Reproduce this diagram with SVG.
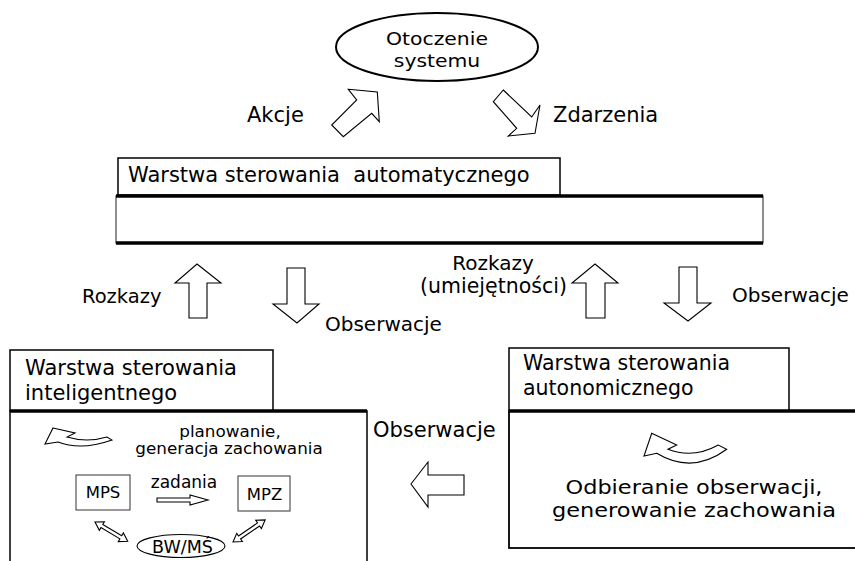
<svg xmlns="http://www.w3.org/2000/svg" width="855" height="561" viewBox="0 0 855 561">
<style>
.t{font-family:"DejaVu Sans","Liberation Sans",sans-serif;fill:#000}
.m{text-anchor:middle}
.box{fill:#fff;stroke:#000;stroke-width:1.5}
.thin{fill:#fff;stroke:#333;stroke-width:1}
.thick{stroke:#000;stroke-width:3.5;fill:none}
.arr{fill:#fff;stroke:#000;stroke-width:1.1;stroke-linejoin:miter}
</style>
<rect width="855" height="561" fill="#fff"/>

<g id="otoczenie">
<ellipse cx="437" cy="47" rx="101" ry="34" fill="#fff" stroke="#000" stroke-width="2"/>
<text class="t m" transform="translate(437,45) scale(1.1,1)" x="0" y="0" font-size="18.5">Otoczenie</text>
<text class="t m" transform="translate(437,67) scale(1.1,1)" x="0" y="0" font-size="18.5">systemu</text>
</g>

<g id="warstwa-automatyczna">
<rect class="box" x="118" y="158" width="442" height="37"/>
<text class="t" x="128" y="182" font-size="21" xml:space="preserve">Warstwa sterowania  automatycznego</text>
<rect x="116" y="196" width="647" height="47" fill="#fff" stroke="#444" stroke-width="1.2"/>
<line class="thick" x1="116" y1="196" x2="763" y2="196"/>
<line class="thick" x1="116" y1="243" x2="763" y2="243"/>
</g>

<g id="warstwa-inteligentna">
<rect class="box" x="10" y="350" width="263" height="61"/>
<text class="t" x="25" y="375" font-size="21">Warstwa sterowania</text>
<text class="t" x="25" y="400" font-size="21">inteligentnego</text>
<path d="M10,565 V411 H367 V565" fill="#fff" stroke="#000" stroke-width="1.5"/>
<line class="thick" x1="10" y1="411" x2="367" y2="411"/>
<path class="arr" d="M53,428 L75,433 L67,437 Q87,443 107,437 L112,440 Q81,451 58,442 L45,444 Z"/>
<text class="t m" transform="translate(230,437) scale(1.12,1)" x="0" y="0" font-size="15">planowanie,</text>
<text class="t m" transform="translate(229,454) scale(1.12,1)" x="0" y="0" font-size="15">generacja zachowania</text>
<g id="mps">
<rect class="thin" x="76" y="475" width="54" height="35"/>
<text class="t m" x="103" y="498" font-size="16.5">MPS</text>
</g>
<g id="mpz">
<rect class="thin" x="238" y="476" width="52" height="35"/>
<text class="t m" x="264.5" y="500" font-size="16.5">MPZ</text>
</g>
<g id="bw-ms">
<ellipse cx="181" cy="546" rx="44" ry="11.5" fill="#fff" stroke="#000" stroke-width="1.1"/>
<text class="t m" x="182.5" y="553" font-size="17.5">BW/MŚ</text>
</g>
<text class="t m" x="184" y="488" font-size="17">zadania</text>
<polygon class="arr" points="157,498 190,498 190,495 208,500 190,505 190,502 157,502"/>
<polygon class="arr" transform="translate(95,522) rotate(30.6)" points="0,0 8,-5 8,-1.8 30,-1.8 30,-5 38,0 30,5 30,1.8 8,1.8 8,5"/>
<polygon class="arr" transform="translate(233,542) rotate(-34.5)" points="0,0 8,-5 8,-1.8 31,-1.8 31,-5 39,0 31,5 31,1.8 8,1.8 8,5"/>
</g>

<g id="warstwa-autonomiczna">
<rect class="box" x="509" y="348" width="280" height="63"/>
<text class="t" x="523" y="370" font-size="20.5">Warstwa sterowania</text>
<text class="t" x="523" y="395" font-size="20.5">autonomicznego</text>
<rect x="509" y="411" width="350" height="137" fill="#fff" stroke="#000" stroke-width="1.8"/>
<line class="thick" x1="509" y1="411" x2="859" y2="411"/>
<path class="arr" d="M651.7,433.3 L676.7,445 L668,449.3 Q693,459 718.3,445 L726.7,449.3 Q692.3,474.7 656.7,453.3 L644,456 Z"/>
<text class="t m" transform="translate(694,494) scale(1.15,1)" x="0" y="0" font-size="19.5">Odbieranie obserwacji,</text>
<text class="t m" transform="translate(694,517) scale(1.15,1)" x="0" y="0" font-size="19.5">generowanie zachowania</text>
</g>

<g id="connectors">
<polygon class="arr" points="348.3,89.3 377.3,92 379.3,121.7 371.7,113.3 343.3,136.7 331.7,125 356.7,100"/>
<text class="t" x="247" y="122" font-size="21">Akcje</text>
<polygon class="arr" points="503.3,90 531.7,117 540,105 535,133.3 508.3,136 516.7,128.3 493.3,101.7"/>
<text class="t" x="553" y="122" font-size="21">Zdarzenia</text>

<polygon class="arr" points="197,264 221,283 207,283 207,318 189,318 189,283 175,283"/>
<text class="t" x="82" y="303" font-size="19.5">Rozkazy</text>
<polygon class="arr" points="287,268 305,268 305,304 319,304 297,323 273,304 287,304"/>
<text class="t" x="325" y="331" font-size="20">Obserwacje</text>

<polygon class="arr" points="595,264 618,283 605,283 605,318 586,318 586,283 572,283"/>
<text class="t m" x="493" y="270" font-size="20">Rozkazy</text>
<text class="t m" x="493.5" y="293" font-size="20.5">(umiejętności)</text>
<polygon class="arr" points="679,267 697,267 697,303 711,303 688,321 664,303 679,303"/>
<text class="t" x="732" y="302" font-size="20">Obserwacje</text>

<polygon class="arr" points="411,484 428,462 428,475 464,475 464,495 428,495 428,507"/>
<text class="t" x="373" y="437" font-size="21">Obserwacje</text>
</g>
</svg>
